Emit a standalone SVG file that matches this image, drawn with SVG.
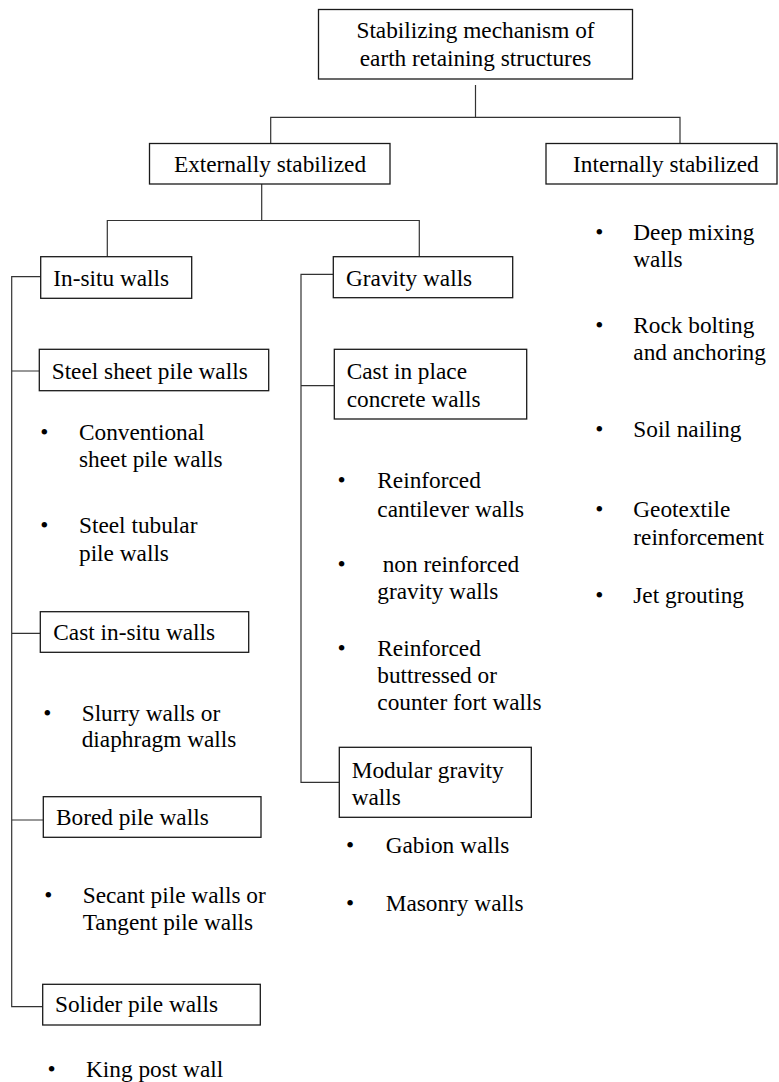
<svg xmlns="http://www.w3.org/2000/svg" width="779" height="1082" viewBox="0 0 779 1082">
<style>
  text { font-family: "Liberation Serif", "Times New Roman", serif; font-size: 23.3px; fill: #000; }
  .box { fill: #fff; stroke: #1a1a1a; stroke-width: 1.3; }
  .mid { text-anchor: middle; }
  #connectors line, #connectors path { stroke: #333; stroke-width: 1.2; fill: none; }
</style>
<rect width="779" height="1082" fill="#fff"/>

<g id="connectors">
  <path d="M475.5 85 V117.3 M270.7 143.3 V117.3 H680 V143.3"/>
  <path d="M261.7 184 V220.5 M107.3 256.7 V220.5 H419.3 V256.7"/>
  <path d="M40.7 276.7 H11.7 V1006.7 H42.7 M11.7 371 H39.3 M11.7 633.3 H40.3 M11.7 820 H43.3"/>
  <path d="M333.3 274.3 H301 V782.3 H339.3 M301 385.7 H334.3"/>
</g>

<g id="root">
  <rect class="box" x="318.5" y="9.5" width="314" height="69.5"/>
  <text class="mid" x="475.5" y="38">Stabilizing mechanism of</text>
  <text class="mid" x="475.5" y="65.5">earth retaining structures</text>
</g>

<g id="externally">
  <rect class="box" x="149.5" y="143.5" width="240.5" height="40.5"/>
  <text class="mid" x="270" y="172">Externally stabilized</text>
</g>

<g id="internally">
  <rect class="box" x="546" y="143.5" width="231" height="40.5"/>
  <text x="573" y="172">Internally stabilized</text>
</g>

<g id="insitu">
  <rect class="box" x="40.7" y="256.7" width="151" height="41.6"/>
  <text x="53.3" y="286">In-situ walls</text>
</g>

<g id="steelsheet">
  <rect class="box" x="39.3" y="349.3" width="229.4" height="41.4"/>
  <text x="51.7" y="379">Steel sheet pile walls</text>
</g>

<g id="steelsheet-items">
  <text class="mid" x="44.3" y="440">•</text>
  <text x="79" y="440">Conventional</text>
  <text x="79" y="467.3">sheet pile walls</text>
  <text class="mid" x="44.3" y="533.3">•</text>
  <text x="79" y="533.3">Steel tubular</text>
  <text x="79" y="561">pile walls</text>
</g>

<g id="castinsitu">
  <rect class="box" x="40.3" y="611.7" width="208.4" height="40.6"/>
  <text x="53.3" y="640">Cast in-situ walls</text>
</g>

<g id="castinsitu-items">
  <text class="mid" x="47.3" y="720.7">•</text>
  <text x="81.7" y="720.7">Slurry walls or</text>
  <text x="81.7" y="747.3">diaphragm walls</text>
</g>

<g id="bored">
  <rect class="box" x="43.3" y="796.7" width="217.7" height="40.6"/>
  <text x="56" y="825">Bored pile walls</text>
</g>

<g id="bored-items">
  <text class="mid" x="48.3" y="902.7">•</text>
  <text x="82.7" y="902.7">Secant pile walls or</text>
  <text x="82.7" y="930">Tangent pile walls</text>
</g>

<g id="solider">
  <rect class="box" x="42.7" y="984.3" width="217.6" height="40.7"/>
  <text x="55" y="1012.3">Solider pile walls</text>
</g>

<g id="solider-items">
  <text class="mid" x="51.7" y="1077.3">•</text>
  <text x="86" y="1077.3">King post wall</text>
</g>

<g id="gravity">
  <rect class="box" x="333.3" y="256.7" width="179.4" height="41"/>
  <text x="346" y="285.7">Gravity walls</text>
</g>

<g id="castinplace">
  <rect class="box" x="334.3" y="349.3" width="192.4" height="69.7"/>
  <text x="346.7" y="379">Cast in place</text>
  <text x="346.7" y="406.7">concrete walls</text>
</g>

<g id="castinplace-items">
  <text class="mid" x="341.7" y="488.3">•</text>
  <text x="377.3" y="488.3">Reinforced</text>
  <text x="377.3" y="516.7">cantilever walls</text>
  <text class="mid" x="341.7" y="571.7">•</text>
  <text x="382.7" y="571.7">non reinforced</text>
  <text x="377.3" y="598.7">gravity walls</text>
  <text class="mid" x="341.7" y="655.7">•</text>
  <text x="377.3" y="655.7">Reinforced</text>
  <text x="377.3" y="683.3">buttressed or</text>
  <text x="377.3" y="710">counter fort walls</text>
</g>

<g id="modular">
  <rect class="box" x="339.3" y="747.3" width="192" height="70"/>
  <text x="351.7" y="777.7">Modular gravity</text>
  <text x="351.7" y="805">walls</text>
</g>

<g id="modular-items">
  <text class="mid" x="350" y="852.7">•</text>
  <text x="385.7" y="852.7">Gabion walls</text>
  <text class="mid" x="350" y="910.7">•</text>
  <text x="385.7" y="910.7">Masonry walls</text>
</g>

<g id="internal-items">
  <text class="mid" x="599.3" y="240">•</text>
  <text x="633.3" y="240">Deep mixing</text>
  <text x="633.3" y="266.7">walls</text>
  <text class="mid" x="599.3" y="332.7">•</text>
  <text x="633.3" y="332.7">Rock bolting</text>
  <text x="633.3" y="360">and anchoring</text>
  <text class="mid" x="599.3" y="437.3">•</text>
  <text x="633.3" y="437.3">Soil nailing</text>
  <text class="mid" x="599.3" y="517.3">•</text>
  <text x="633.3" y="517.3">Geotextile</text>
  <text x="633.3" y="545">reinforcement</text>
  <text class="mid" x="599.3" y="603.3">•</text>
  <text x="633.3" y="603.3">Jet grouting</text>
</g>
</svg>
